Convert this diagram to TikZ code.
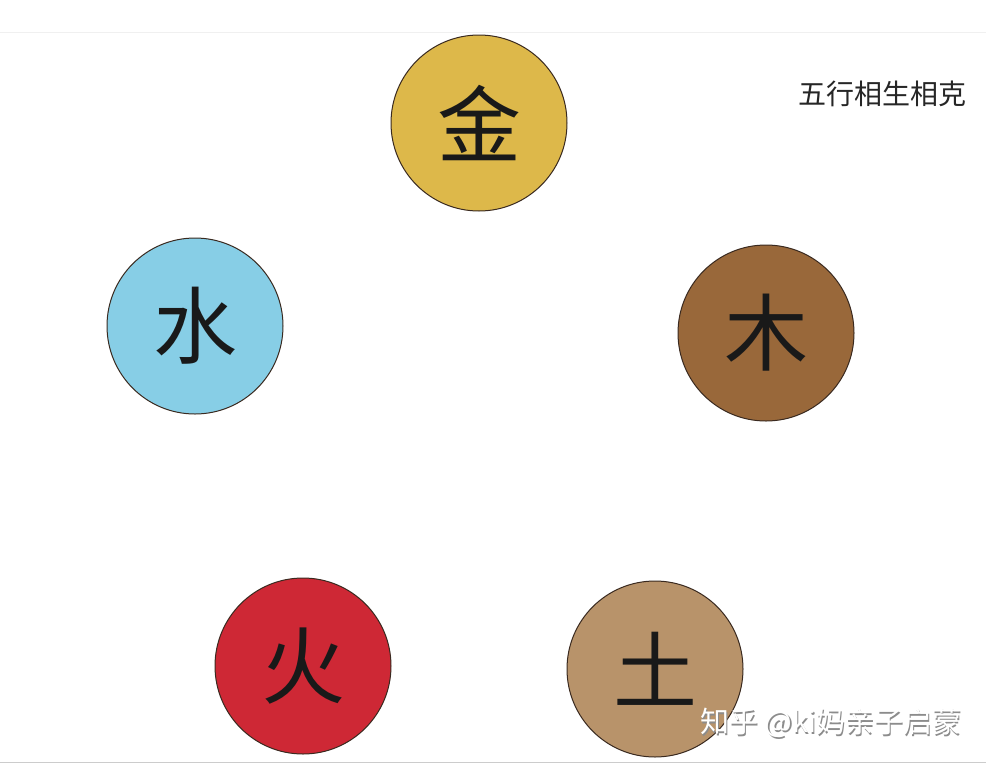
\documentclass[tikz,border=0pt]{standalone}
\usepackage{fontspec}
\newfontfamily\cjk{Noto Sans CJK SC}
\usepackage{tikz}
\usetikzlibrary{positioning}
\definecolor{jincol}{HTML}{DDB84A}
\definecolor{shuicol}{HTML}{87CEE6}
\definecolor{mucol}{HTML}{99683A}
\definecolor{huocol}{HTML}{CE2835}
\definecolor{tucol}{HTML}{B8936A}
\definecolor{rimcol}{HTML}{3A2A20}
\tikzset{
  element/.style={circle, draw=rimcol, line width=1pt, minimum size=176pt, inner sep=0pt,
    font=\cjk\fontsize{84}{84}\selectfont, text=black!90},
  rule/.style={line width=1pt}
}
\begin{document}
\begin{tikzpicture}[x=1pt, y=-1pt]
  \useasboundingbox (0,0) rectangle (986,764);
  % frame lines
  \draw[rule, black!6] (0,32) -- (986,32);
  \draw[rule, black!20] (0,762) -- (986,762);
  % the five elements
  \node[element, fill=jincol] (jin) at (479,123) {金};
  \node[element, fill=shuicol] (shui) at (195,326) {水};
  \node[element, fill=mucol] (mu) at (766,333) {木};
  \node[element, fill=huocol] (huo) at (303,666) {火};
  \node[element, fill=tucol] (tu) at (655,669) {土};
  % title
  \node[anchor=east, inner sep=0pt, font=\cjk\fontsize{28}{28}\selectfont, text=black!85] (title) at (967,94) {五行相生相克};
  % watermark
  \node[anchor=west, inner sep=0pt, font=\cjk\fontsize{29}{29}\selectfont, text=black!45] (markshadow) at (701.5,724.5) {知乎 @ki妈亲子启蒙};
  \node[anchor=west, inner sep=0pt, font=\cjk\fontsize{29}{29}\selectfont, text=white] (mark) at (700,723) {知乎 @ki妈亲子启蒙};
\end{tikzpicture}
\end{document}
